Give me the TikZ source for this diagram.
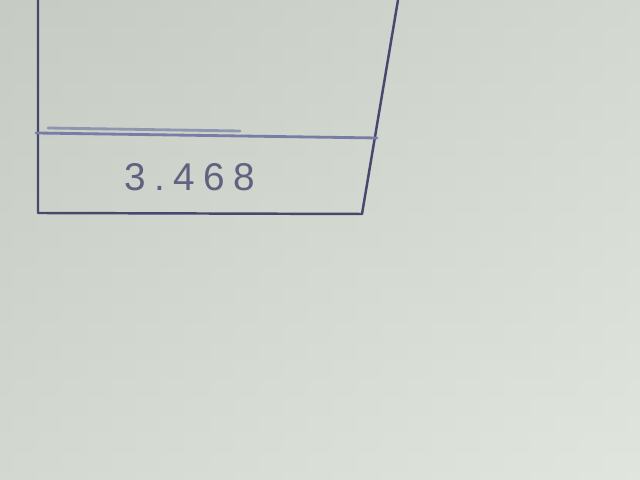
\documentclass[tikz,border=0pt]{standalone}
\usepackage{fontspec}
\newfontfamily\handfont[LetterSpace=22]{Liberation Sans}
\usetikzlibrary{positioning}
\definecolor{paper}{RGB}{198,203,196}
\definecolor{paperlight}{RGB}{224,229,222}
\definecolor{ink}{RGB}{70,72,110}
\definecolor{inklight}{RGB}{120,125,165}
\tikzset{
  pen/.style={draw=ink, line width=0.7pt, line cap=round, line join=round},
  softpen/.style={draw=inklight, line width=0.8pt, line cap=round},
  figure/.style={text=ink!80!paper, font=\handfont\fontsize{11}{11}\selectfont}
}

\begin{document}
\begin{tikzpicture}[x=0.01cm, y=-0.01cm]
  % paper background
  \useasboundingbox (0,0) rectangle (640,480);
  \shade[left color=paper, right color=paperlight] (0,0) rectangle (640,480);
  \shade[top color=paper, bottom color=paperlight, opacity=0.5] (0,0) rectangle (640,480);
  % box corners
  \coordinate (tl) at (38,0);
  \coordinate (bl) at (38,213);
  \coordinate (tr) at (398,0);
  \coordinate (br) at (362,214);
  \coordinate (ml) at (36,133);
  \coordinate (mr) at (377,138);
  \draw[pen] (tl) -- (bl) -- (br) -- (tr);
  \draw[softpen] (ml) -- (mr);
  \draw[softpen, opacity=0.7] (48,128) -- (240,131);
  \node[figure] (value) at (190,177) {3.468};
\end{tikzpicture}
\end{document}
